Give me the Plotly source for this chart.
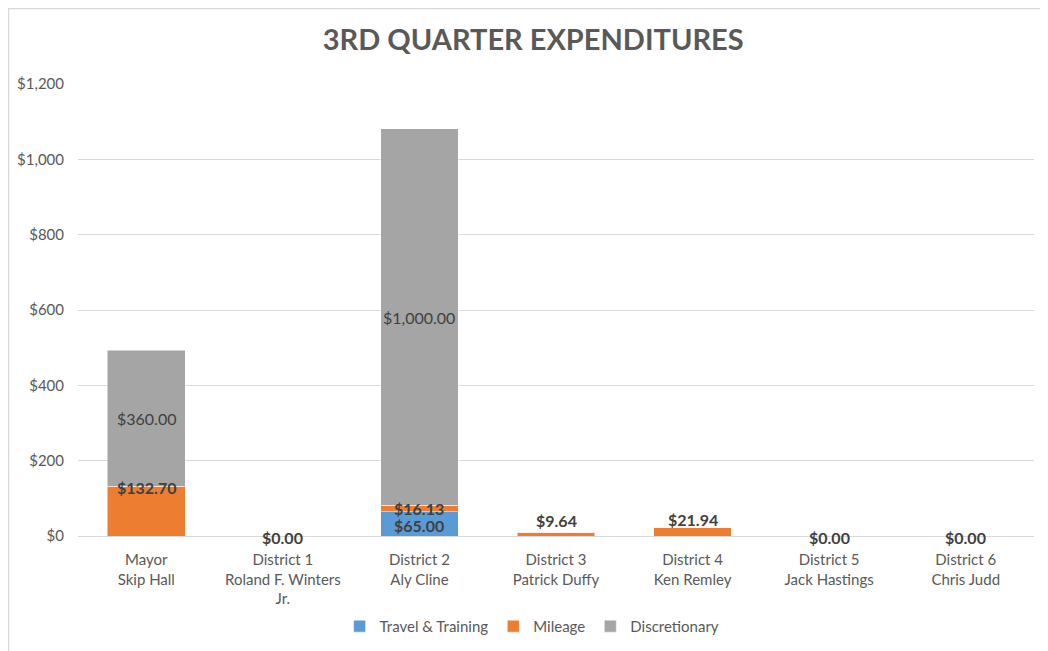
import plotly.graph_objects as go

categories = ["Mayor<br>Skip Hall", "District 1<br>Roland F. Winters<br>Jr.", "District 2<br>Aly Cline",
              "District 3<br>Patrick Duffy", "District 4<br>Ken Remley", "District 5<br>Jack Hastings",
              "District 6<br>Chris Judd"]
travel = [0, 0, 65.00, 0, 0, 0, 0]
mileage = [132.70, 0, 16.13, 9.64, 21.94, 0, 0]
discretionary = [360.00, 0, 1000.00, 0, 0, 0, 0]
y_ticks = [0, 200, 400, 600, 800, 1000, 1200]
y_tick_labels = ["$0", "$200", "$400", "$600", "$800", "$1,000", "$1,200"]

FONT = "Lato"
TXT = "#595959"
LBL = "#404040"

fig = go.Figure()
xs = list(range(len(categories)))
fig.add_trace(go.Bar(x=xs, y=travel, name="Travel & Training", marker=dict(color="#5B9BD5", line=dict(color="white", width=0.5))))
fig.add_trace(go.Bar(x=xs, y=mileage, name="Mileage", marker=dict(color="#ED7D31", line=dict(color="white", width=0.5))))
fig.add_trace(go.Bar(x=xs, y=discretionary, name="Discretionary", marker=dict(color="#A5A5A5", line=dict(color="white", width=0.5))))

ann = []
mileage_shift = [-1, 0, -3, 12, 8, 0, 0]
for i in xs:
    t, m, d = travel[i], mileage[i], discretionary[i]
    if t + m + d == 0:
        ann.append(dict(x=i, y=0, text="<b>$0.00</b>", showarrow=False, yshift=-1,
                        font=dict(family=FONT, size=16, color=LBL)))
        continue
    if t > 0:
        ann.append(dict(x=i, y=t / 2, text=f"<b>${t:,.2f}</b>", showarrow=False, yshift=-2,
                        font=dict(family=FONT, size=16, color=LBL)))
    if m > 0:
        ann.append(dict(x=i, y=t + m, text=f"<b>${m:,.2f}</b>", showarrow=False, yshift=mileage_shift[i],
                        font=dict(family=FONT, size=16, color=LBL)))
    if d > 0:
        ann.append(dict(x=i, y=t + m + d / 2, text=f"${d:,.2f}", showarrow=False,
                        font=dict(family=FONT, size=16, color=LBL)))

fig.update_layout(
    width=1040, height=643,
    barmode="stack", bargap=0.43,
    paper_bgcolor="white", plot_bgcolor="white",
    margin=dict(l=70, r=14, t=76, b=115, autoexpand=False),
    title=dict(text="<b>3RD QUARTER EXPENDITURES</b>", x=0.505, xanchor="center", y=0.950, yanchor="middle",
               font=dict(family=FONT, size=29, color=TXT)),
    legend=dict(orientation="h", x=0.475, xanchor="center", y=-0.2, yanchor="middle",
                font=dict(family=FONT, size=15, color=TXT), traceorder="normal"),
    annotations=ann,
    shapes=[dict(type="rect", xref="paper", yref="paper", x0=-0.0727, x1=1.05, y0=-0.4, y1=1.167,
                 line=dict(color="#D9D9D9", width=1.5), fillcolor="rgba(0,0,0,0)", layer="below")],
)
fig.update_xaxes(tickmode="array", tickvals=xs, ticktext=categories, range=[-0.5, 6.5],
                 tickfont=dict(family=FONT, size=15, color=TXT), showline=True, linecolor="#D9D9D9",
                 ticks="", showgrid=False, automargin=False, ticklabelstandoff=10)
fig.update_yaxes(range=[0, 1200], tickmode="array", tickvals=y_ticks, ticktext=y_tick_labels,
                 tickfont=dict(family=FONT, size=15, color=TXT), gridcolor="#D9D9D9", zeroline=False,
                 showline=False, ticks="", automargin=False, ticklabelstandoff=13)
fig.write_html("out.html")
